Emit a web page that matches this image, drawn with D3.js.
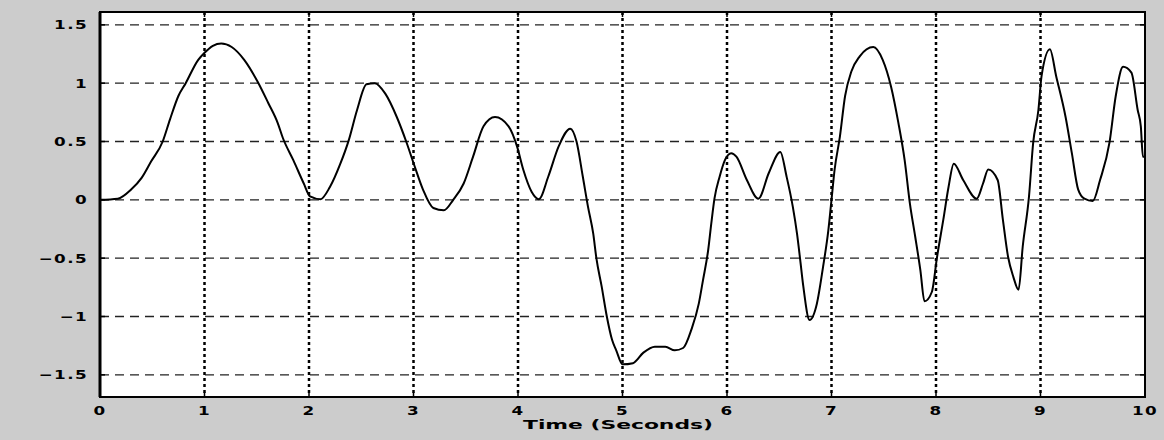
<!DOCTYPE html>
<html>
<head>
<meta charset="utf-8">
<script src="https://cdn.jsdelivr.net/npm/d3@7"></script>
<style>
  html, body { margin: 0; padding: 0; background: #cccccc; }
  svg { display: block; }
  .lbl { font-family: "DejaVu Sans", sans-serif; font-weight: bold; font-size: 12px; fill: #000; }
</style>
</head>
<body>
<svg id="chart" width="1164" height="440"></svg>
<script>
// time samples (seconds)
const times = [0, 0.17, 0.30, 0.40, 0.49, 0.60, 0.67, 0.75, 0.82, 0.94, 1.0, 1.08, 1.16, 1.26, 1.38, 1.51, 1.61, 1.70,
  1.75, 1.85, 1.95, 2.01, 2.11, 2.20, 2.30, 2.38, 2.46, 2.55, 2.63, 2.73, 2.84, 2.93, 3.01, 3.09, 3.19, 3.29,
  3.38, 3.48, 3.57, 3.67, 3.78, 3.91, 3.99, 4.05, 4.13, 4.20, 4.29, 4.39, 4.50, 4.56, 4.62, 4.67, 4.72, 4.75,
  4.80, 4.85, 4.90, 4.94, 5.00, 5.10, 5.20, 5.31, 5.41, 5.50, 5.58, 5.66, 5.73, 5.77, 5.82, 5.85, 5.88, 5.93,
  5.98, 6.04, 6.09, 6.19, 6.30, 6.40, 6.51, 6.57, 6.63, 6.67, 6.70, 6.73, 6.79, 6.86, 6.92, 6.97, 7.00, 7.03,
  7.08, 7.13, 7.19, 7.27, 7.40, 7.49, 7.57, 7.64, 7.70, 7.75, 7.80, 7.85, 7.89, 7.96, 8.01, 8.07, 8.12, 8.17,
  8.26, 8.39, 8.45, 8.50, 8.59, 8.64, 8.69, 8.74, 8.79, 8.83, 8.89, 8.93, 8.98, 9.01, 9.09, 9.15, 9.24, 9.30,
  9.36, 9.42, 9.50, 9.57, 9.66, 9.72, 9.79, 9.87, 9.93, 9.96, 9.98, 10.0];

// signal values at those times
const signal = [0, 0.01, 0.09, 0.19, 0.33, 0.5, 0.69, 0.89, 1.0, 1.2, 1.26, 1.32, 1.34, 1.31, 1.2, 1.01, 0.83, 0.66,
  0.53, 0.34, 0.14, 0.03, 0.006, 0.11, 0.31, 0.51, 0.77, 0.99, 1.0, 0.91, 0.71, 0.5, 0.29, 0.09, -0.07, -0.09,
  0, 0.14, 0.37, 0.63, 0.71, 0.63, 0.46, 0.26, 0.07, 0.006, 0.2, 0.46, 0.61, 0.5, 0.2, -0.06, -0.29, -0.5,
  -0.74, -1.0, -1.2, -1.29, -1.41, -1.40, -1.31, -1.26, -1.26, -1.29, -1.27, -1.11, -0.89, -0.69, -0.43, -0.2, 0.01, 0.2,
  0.34, 0.4, 0.37, 0.17, 0.01, 0.23, 0.41, 0.2, -0.06, -0.29, -0.51, -0.74, -1.03, -0.89, -0.57, -0.26, 0, 0.26,
  0.54, 0.89, 1.1, 1.23, 1.31, 1.2, 0.97, 0.66, 0.34, -0.03, -0.31, -0.6, -0.87, -0.79, -0.49, -0.17, 0.11, 0.31,
  0.17, 0.01, 0.14, 0.26, 0.17, -0.17, -0.49, -0.66, -0.77, -0.4, 0.03, 0.49, 0.77, 1.06, 1.29, 1.06, 0.71, 0.4,
  0.09, 0.01, -0.01, 0.17, 0.49, 0.89, 1.14, 1.09, 0.77, 0.63, 0.37, 0.37];

const xTicks = [0, 1, 2, 3, 4, 5, 6, 7, 8, 9, 10];
const yTicks = [-1.5, -1, -0.5, 0, 0.5, 1, 1.5];
const xLabel = "Time (Seconds)";

const plotLeft = 100, plotRight = 1145, plotTop = 12, plotBottom = 397;

const svg = d3.select("#chart");

const x = d3.scaleLinear().domain([0, 10]).range([plotLeft, plotRight]);
const y = d3.scaleLinear().domain([-1.69, 1.61]).range([plotBottom, plotTop]);

// white plot area
svg.append("rect")
  .attr("x", plotLeft).attr("y", plotTop)
  .attr("width", plotRight - plotLeft).attr("height", plotBottom - plotTop)
  .attr("fill", "#fff");

// grid: dashed horizontal, dotted vertical
svg.append("g").selectAll("line").data(yTicks).join("line")
  .attr("x1", plotLeft).attr("x2", plotRight)
  .attr("y1", d => y(d)).attr("y2", d => y(d))
  .attr("stroke", "#222").attr("stroke-width", 1.3)
  .attr("stroke-dasharray", "9,6");

svg.append("g").selectAll("line").data(xTicks.slice(1, -1)).join("line")
  .attr("x1", d => x(d)).attr("x2", d => x(d))
  .attr("y1", plotTop).attr("y2", plotBottom)
  .attr("stroke", "#000").attr("stroke-width", 2.5)
  .attr("stroke-dasharray", "3,3");

// inward ticks on all four sides
const tickLen = 5;
const tk = svg.append("g").attr("stroke", "#000").attr("stroke-width", 1.5);
yTicks.forEach(v => {
  tk.append("line").attr("x1", plotLeft).attr("x2", plotLeft + tickLen).attr("y1", y(v)).attr("y2", y(v));
  tk.append("line").attr("x1", plotRight).attr("x2", plotRight - tickLen).attr("y1", y(v)).attr("y2", y(v));
});
xTicks.forEach(v => {
  tk.append("line").attr("x1", x(v)).attr("x2", x(v)).attr("y1", plotBottom).attr("y2", plotBottom - tickLen);
  tk.append("line").attr("x1", x(v)).attr("x2", x(v)).attr("y1", plotTop).attr("y2", plotTop + tickLen);
});

// the signal
const line = d3.line()
  .x((d, i) => x(times[i]))
  .y(d => y(d))
  .curve(d3.curveMonotoneX);

svg.append("path")
  .datum(signal)
  .attr("d", line)
  .attr("fill", "none")
  .attr("stroke", "#000")
  .attr("stroke-width", 2)
  .attr("stroke-linejoin", "round");

// box
svg.append("rect")
  .attr("x", plotLeft).attr("y", plotTop)
  .attr("width", plotRight - plotLeft).attr("height", plotBottom - plotTop)
  .attr("fill", "none").attr("stroke", "#000").attr("stroke-width", 2);
svg.append("line")
  .attr("x1", plotLeft).attr("x2", plotLeft)
  .attr("y1", plotTop).attr("y2", plotBottom)
  .attr("stroke", "#000").attr("stroke-width", 3);

// tick labels, stretched a little sideways like the old bitmap font
function fmt(v) {
  return (v < 0 ? "\u2212" : "") + String(Math.abs(v));
}

svg.append("g").selectAll("text").data(yTicks).join("text")
  .attr("class", "lbl")
  .attr("text-anchor", "end")
  .attr("dominant-baseline", "central")
  .attr("letter-spacing", "1")
  .attr("transform", d => "translate(88," + y(d) + ") scale(1.4,1)")
  .text(fmt);

svg.append("g").selectAll("text").data(xTicks).join("text")
  .attr("class", "lbl")
  .attr("text-anchor", "middle")
  .attr("dominant-baseline", "central")
  .attr("letter-spacing", "1")
  .attr("transform", d => "translate(" + x(d) + ",410) scale(1.4,1)")
  .text(fmt);

svg.append("text")
  .attr("class", "lbl")
  .attr("x", 523).attr("y", 425)
  .attr("dominant-baseline", "central")
  .attr("textLength", 190)
  .attr("lengthAdjust", "spacingAndGlyphs")
  .text(xLabel);
</script>
</body>
</html>
